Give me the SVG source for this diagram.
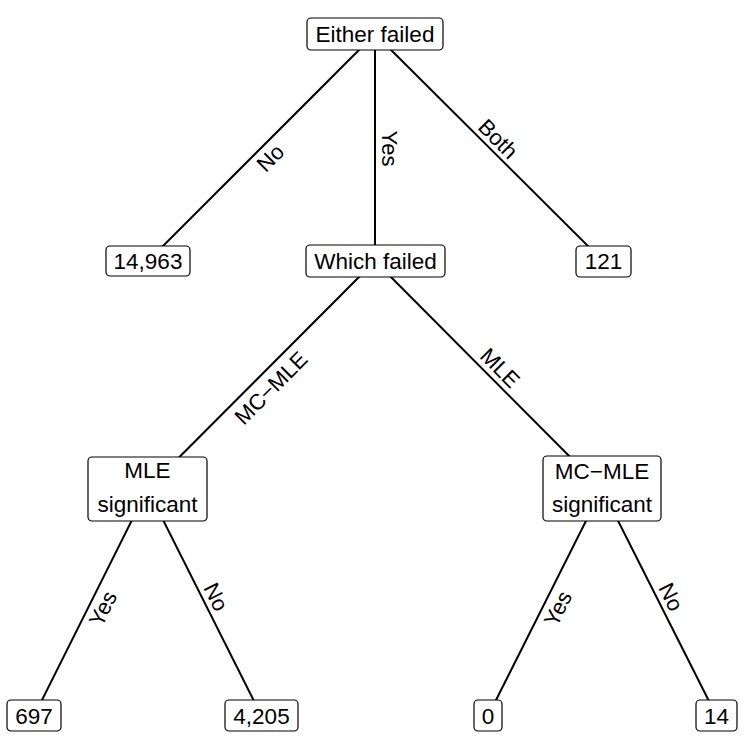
<svg xmlns="http://www.w3.org/2000/svg" width="750" height="750" viewBox="0 0 750 750">
<style>
.box{fill:#fff;stroke:#000;stroke-width:1.2}
.t{font-family:"Liberation Sans",Arial,sans-serif;font-size:22.5px;fill:#000;text-anchor:middle}
.e{font-family:"Liberation Sans",Arial,sans-serif;font-size:22px;fill:#000;text-anchor:middle;dominant-baseline:central}
.c line{stroke:#000;stroke-width:2}
</style>
<rect width="750" height="750" fill="#fff"/>
<g class="c" id="connectors">
<line x1="375" y1="34" x2="148" y2="261"/>
<line x1="375" y1="34" x2="375" y2="261"/>
<line x1="375" y1="34" x2="603" y2="261"/>
<line x1="375" y1="261" x2="147.5" y2="489"/>
<line x1="375" y1="261" x2="602" y2="489"/>
<line x1="147.5" y1="489" x2="34" y2="716"/>
<line x1="147.5" y1="489" x2="261.5" y2="716"/>
<line x1="602" y1="489" x2="488" y2="716"/>
<line x1="602" y1="489" x2="716.5" y2="716"/>
<text class="e" transform="translate(270.5,158) rotate(-45)">No</text>
<text class="e" transform="translate(389,148.5) rotate(90)">Yes</text>
<text class="e" transform="translate(498,139) rotate(45)">Both</text>
<text class="e" transform="translate(271,388) rotate(-45)">MC−MLE</text>
<text class="e" transform="translate(500,368) rotate(45)">MLE</text>
<text class="e" transform="translate(103,608.5) rotate(-63.43)">Yes</text>
<text class="e" transform="translate(216,597) rotate(63.43)">No</text>
<text class="e" transform="translate(558,608.5) rotate(-63.43)">Yes</text>
<text class="e" transform="translate(671,597) rotate(63.43)">No</text>
</g>
<g id="either"><rect class="box" x="307" y="18" width="136" height="32" rx="4"/><text class="t" x="375" y="42">Either failed</text></g>
<g id="n14963"><rect class="box" x="106" y="246" width="84" height="30" rx="4"/><text class="t" x="148" y="269">14,963</text></g>
<g id="which"><rect class="box" x="306" y="245" width="139" height="32" rx="4"/><text class="t" x="375.5" y="269">Which failed</text></g>
<g id="n121"><rect class="box" x="576" y="246" width="55" height="31" rx="4"/><text class="t" x="603.5" y="269">121</text></g>
<g id="mlesig"><rect class="box" x="88" y="457" width="119" height="64" rx="4"/><text class="t" x="147.5" y="478">MLE</text><text class="t" x="147.5" y="512">significant</text></g>
<g id="mcmlesig"><rect class="box" x="543" y="456" width="118" height="65" rx="4"/><text class="t" x="602" y="479">MC−MLE</text><text class="t" x="602" y="512">significant</text></g>
<g id="n697"><rect class="box" x="7" y="700" width="54" height="31" rx="4"/><text class="t" x="34" y="724">697</text></g>
<g id="n4205"><rect class="box" x="225" y="700" width="73" height="31" rx="4"/><text class="t" x="261.5" y="724">4,205</text></g>
<g id="n0"><rect class="box" x="474" y="700" width="28" height="31" rx="4"/><text class="t" x="488" y="724">0</text></g>
<g id="n14"><rect class="box" x="696" y="700" width="41" height="31" rx="4"/><text class="t" x="716.5" y="724">14</text></g>
</svg>
